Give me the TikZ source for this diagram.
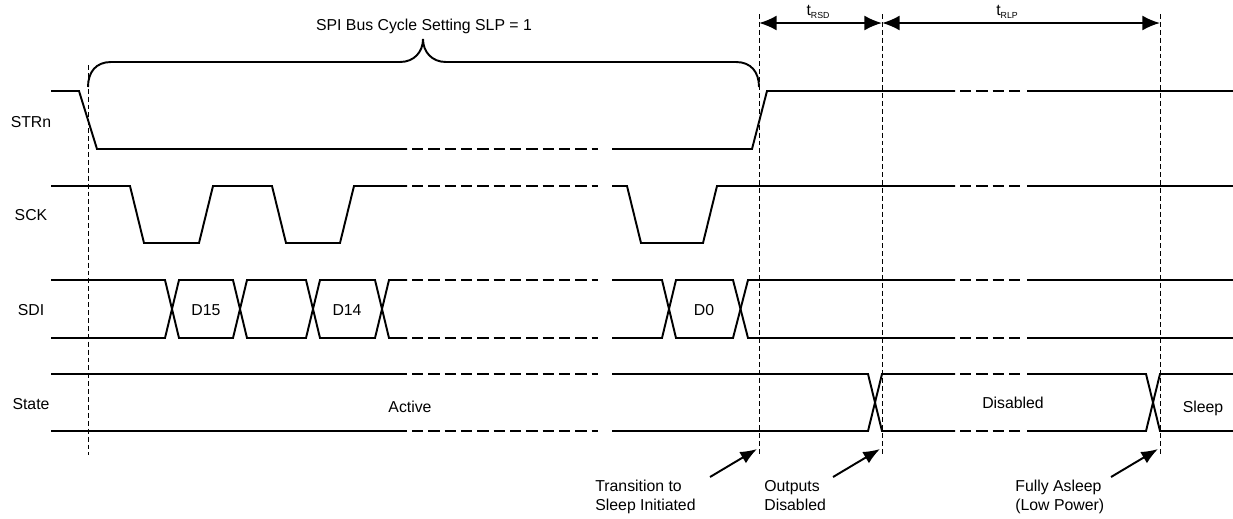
\documentclass[tikz,border=0pt]{standalone}
\usepackage{fontspec}
\setmainfont{Liberation Sans}
\usetikzlibrary{arrows.meta}

\begin{document}
\begin{tikzpicture}[x=0.02cm,y=-0.02cm,
                sig/.style={line width=1.1pt},
                gap/.style={sig, dash pattern=on 6.5pt off 2.8pt},
                guide/.style={line width=0.5pt, dash pattern=on 2.8pt off 1.7pt},
                txt/.style={font=\fontsize{9}{10.8}\selectfont, inner sep=0pt},
                note/.style={txt, align=left, anchor=north west},
                tspan/.style={line width=1.2pt, {Latex[length=10pt,width=8.5pt]}-{Latex[length=10pt,width=8.5pt]}},
                pointer/.style={line width=1.1pt, -{Latex[length=9.5pt,width=7.5pt]}}]
                \useasboundingbox (0,0) rectangle (1233,518);

                % labels
                \node[txt] (title) at (424,26) {SPI Bus Cycle Setting SLP = 1};
                \node[txt] (strn) at (31,122) {STRn};
                \node[txt] (sck) at (31,215) {SCK};
                \node[txt] (sdi) at (31,310) {SDI};
                \node[txt] (state) at (31,404) {State};
                \node[txt] (d15) at (206,310) {D15};
                \node[txt] (d14) at (347,310) {D14};
                \node[txt] (d0) at (704,310) {D0};
                \node[txt] (active) at (410,407) {Active};
                \node[txt] (disabled) at (1013,403) {Disabled};
                \node[txt] (sleep) at (1203,408) {Sleep};
                \node[txt] (trsd) at (818,12) {t\raisebox{-0.4ex}{\fontsize{5}{6}\selectfont RSD}};
                \node[txt] (trlp) at (1007,12) {t\raisebox{-0.4ex}{\fontsize{5}{6}\selectfont RLP}};
                \node[note] (trans) at (595,480) {Transition to\\Sleep Initiated};
                \node[note] (outdis) at (764,480) {Outputs\\Disabled};
                \node[note] (asleep) at (1015,480) {Fully Asleep\\(Low Power)};

                % brace
                \draw[sig] (88,87) .. controls (88,72) and (96,62) .. (111,62) -- (400,62)
                    .. controls (414,62) and (423,52) .. (423,39)
                    .. controls (423,52) and (432,62) .. (446,62) -- (736,62)
                    .. controls (751,62) and (759,72) .. (759,87);

                % guides
                \coordinate (g1t) at (88,65);
                \coordinate (g1b) at (88,455);
                \draw[guide] (g1t) -- (g1b);
                \foreach \n/\x in {2/759,3/882,4/1160} {
                    \coordinate (g\n t) at (\x,14);
                    \coordinate (g\n b) at (\x,455);
                    \coordinate (m\n) at (\x,23);
                    \draw[guide] (g\n t) -- (g\n b);
                }
                \draw[tspan] (m2) -- (m3);
                \draw[tspan] (m3) -- (m4);

                % STRn
                \draw[sig] (51,91) -- (79,91) -- (97,149) -- (407,149);
                \draw[sig] (612,149) -- (752,149) -- (767,91) -- (955,91);
                \draw[sig] (1027,91) -- (1233,91);

                % SCK
                \draw[sig] (51,186) -- (130,186) -- (144,243) -- (199,243) -- (213,186) -- (272,186)
                    -- (286,243) -- (340,243) -- (354,186) -- (407,186);
                \draw[sig] (612,186) -- (627,186) -- (641,243) -- (703,243) -- (717,186) -- (955,186);
                \draw[sig] (1027,186) -- (1233,186);

                % SDI
                \draw[sig] (51,280) -- (165,280) -- (179,338) -- (233,338) -- (247,280) -- (306,280)
                    -- (320,338) -- (375,338) -- (389,280) -- (407,280);
                \draw[sig] (51,338) -- (165,338) -- (179,280) -- (233,280) -- (247,338) -- (306,338)
                    -- (320,280) -- (375,280) -- (389,338) -- (407,338);
                \draw[sig] (612,280) -- (662,280) -- (676,338) -- (733,338) -- (748,280) -- (955,280);
                \draw[sig] (612,338) -- (662,338) -- (676,280) -- (733,280) -- (748,338) -- (955,338);
                \draw[sig] (1027,280) -- (1233,280);
                \draw[sig] (1027,338) -- (1233,338);

                % State
                \draw[sig] (51,374) -- (407,374);
                \draw[sig] (51,431) -- (407,431);
                \draw[sig] (612,374) -- (868,374) -- (882,431) -- (955,431);
                \draw[sig] (612,431) -- (868,431) -- (882,374) -- (955,374);
                \draw[sig] (1027,374) -- (1146,374) -- (1160,431) -- (1233,431);
                \draw[sig] (1027,431) -- (1146,431) -- (1160,374) -- (1233,374);

                % skipped cycles
                \foreach \y in {149,186,280,338,374,431}
                    \draw[gap] (412,\y) -- (598,\y);
                \foreach \y in {91,186,280,338,374,431}
                    \draw[gap] (960,\y) -- (1024,\y);

                % pointers
                \coordinate (q1) at (710,477);
                \coordinate (p1) at (757,449);
                \coordinate (q2) at (833,477);
                \coordinate (p2) at (880,449);
                \coordinate (q3) at (1111,477);
                \coordinate (p3) at (1158,449);
                \draw[pointer] (q1) -- (p1);
                \draw[pointer] (q2) -- (p2);
                \draw[pointer] (q3) -- (p3);
            \end{tikzpicture}
\end{document}
